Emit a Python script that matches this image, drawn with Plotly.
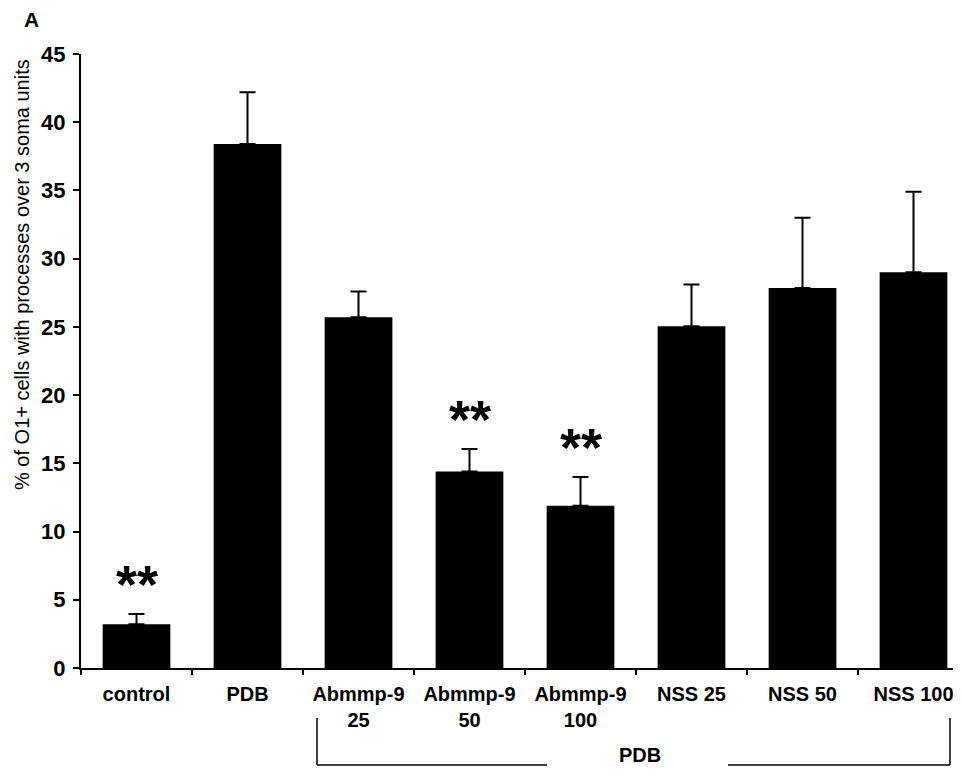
import plotly.graph_objects as go

categories = ["control", "PDB", "Abmmp-9<br>25", "Abmmp-9<br>50", "Abmmp-9<br>100",
              "NSS 25", "NSS 50", "NSS 100"]
values = [3.2, 38.4, 25.7, 14.4, 11.9, 25.05, 27.85, 29.0]
errors = [0.75, 3.8, 1.9, 1.65, 2.1, 3.05, 5.15, 5.9]
significant = [True, False, False, True, True, False, False, False]
y_ticks = [0, 5, 10, 15, 20, 25, 30, 35, 40, 45]

OFF = 8  # page body margin
W, H = 961 - 2 * OFF, 777 - 2 * OFF
L, R, T = 81 - OFF, 0, 54 - OFF
B = H - (668 - OFF)
PW, PH = W - L - R, H - T - B

def px(x):
    return (x - OFF - L) / PW

def py(y):
    return (H - B - (y - OFF)) / PH

FONT = "Liberation Sans, Arial, Helvetica, sans-serif"

fig = go.Figure()
fig.add_trace(go.Bar(
    x=categories, y=values,
    marker=dict(color="black", line=dict(width=0)),
    width=0.61,
    error_y=dict(type="data", symmetric=False, array=errors,
                 arrayminus=[0] * len(errors), color="black", thickness=2, width=8),
))

annotations = []
for c, v, e, s in zip(categories, values, errors, significant):
    if s:
        annotations.append(dict(x=c, y=v + e, xref="x", yref="y", text="<b>**</b>",
                                showarrow=False, xanchor="center", yanchor="bottom", yshift=-2,
                                font=dict(family=FONT, size=54, color="black")))

annotations += [
    dict(x=px(31), y=py(20), xref="paper", yref="paper", text="<b>A</b>", showarrow=False,
         xanchor="center", yanchor="middle",
         font=dict(family=FONT, size=21, color="black")),
    dict(x=px(22), y=py(275), xref="paper", yref="paper",
         text="% of O1+ cells with processes over 3 soma units", textangle=-90,
         showarrow=False, xanchor="center", yanchor="middle",
         font=dict(family=FONT, size=20, color="black")),
    dict(x=px(640), y=py(755), xref="paper", yref="paper", text="<b>PDB</b>",
         showarrow=False, xanchor="center", yanchor="middle",
         font=dict(family=FONT, size=20, color="black")),
]

line = dict(color="black", width=1.5)
YB = 765
shapes = [
    dict(type="line", xref="paper", yref="paper", x0=px(317), x1=px(317), y0=py(718), y1=py(YB), line=line),
    dict(type="line", xref="paper", yref="paper", x0=px(317), x1=px(547), y0=py(YB), y1=py(YB), line=line),
    dict(type="line", xref="paper", yref="paper", x0=px(728), x1=px(950), y0=py(YB), y1=py(YB), line=line),
    dict(type="line", xref="paper", yref="paper", x0=px(950), x1=px(950), y0=py(718), y1=py(YB), line=line),
]

fig.update_layout(
    width=W, height=H,
    margin=dict(l=L, r=R, t=T, b=B),
    plot_bgcolor="white", paper_bgcolor="white",
    showlegend=False,
    annotations=annotations,
    shapes=shapes,
    font=dict(family=FONT, color="black"),
    xaxis=dict(
        range=[-0.5, -0.5 + PW / 111.0],
        showline=True, linecolor="black", linewidth=2,
        ticks="outside", tickson="boundaries", ticklen=5, tickwidth=2, tickcolor="black",
        tickfont=dict(family=FONT, size=20, color="black"),
        ticklabelstandoff=7,
        showgrid=False, zeroline=False,
        tickprefix="<b>", ticksuffix="</b>",
    ),
    yaxis=dict(
        range=[0, 45],
        tickvals=y_ticks, ticktext=[f"<b>{t}</b>" for t in y_ticks],
        showline=True, linecolor="black", linewidth=2,
        ticks="outside", ticklen=6, tickwidth=2, tickcolor="black",
        tickfont=dict(family=FONT, size=22, color="black"),
        ticklabelstandoff=3,
        showgrid=False, zeroline=False,
    ),
)

fig.write_html("out.html")
